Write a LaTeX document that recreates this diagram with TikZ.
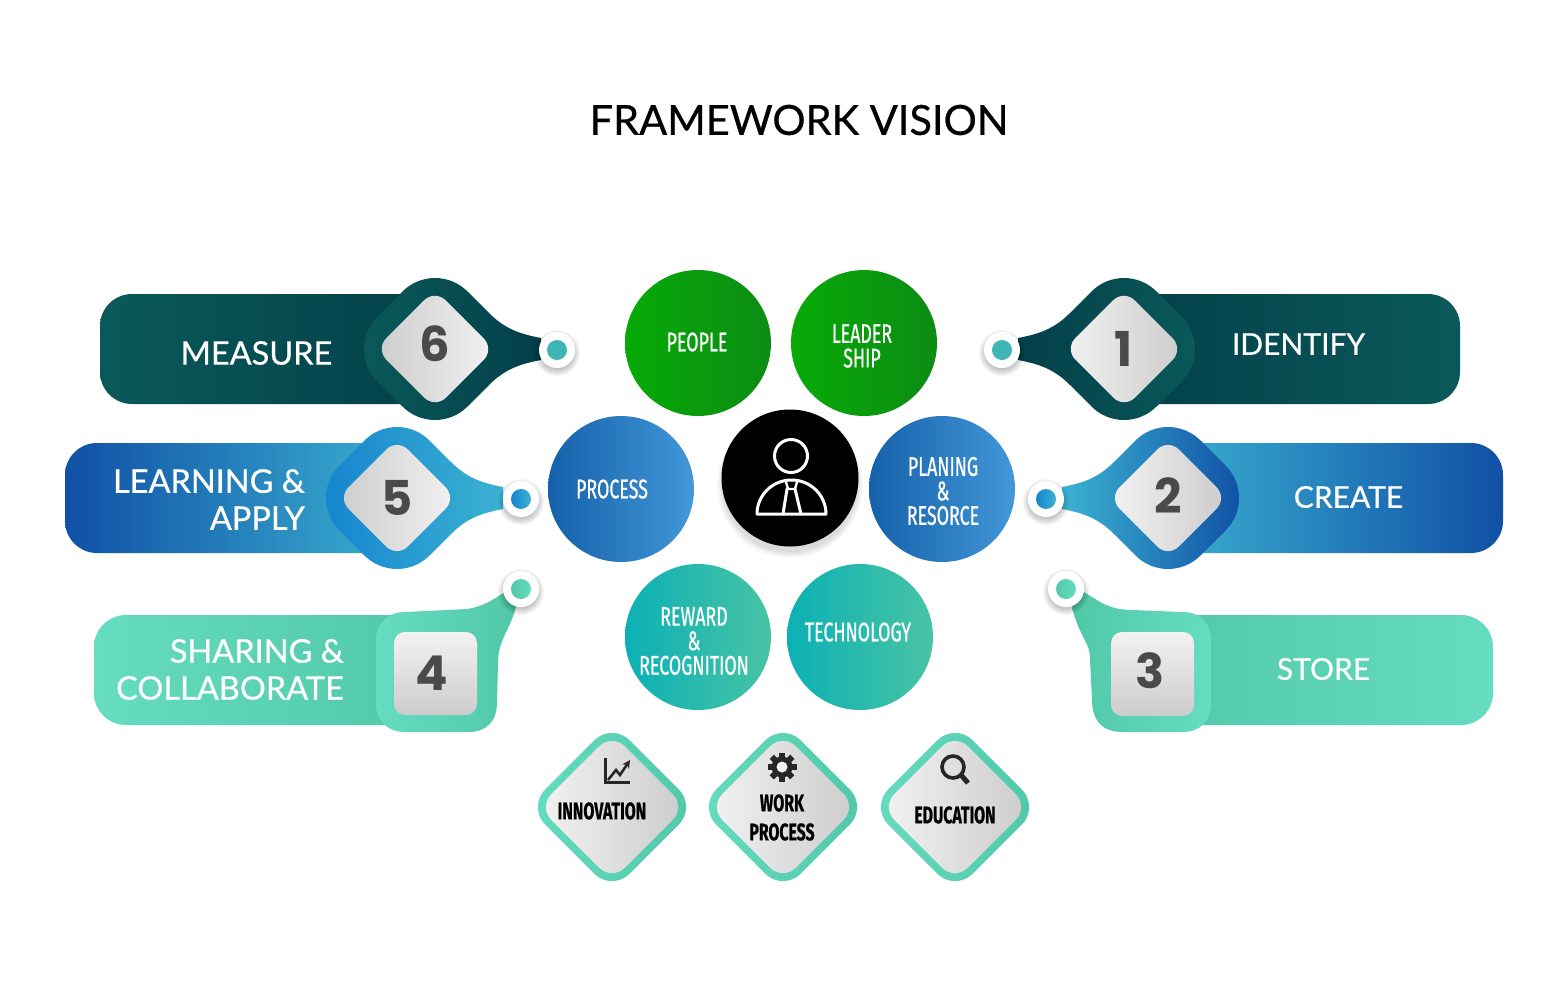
\documentclass[tikz,border=0pt]{standalone}
\usepackage{fontspec}
\setmainfont{Lato}
\newfontfamily\labelf[FakeBold=0.6]{Lato}
\newfontfamily\condf[FakeStretch=0.66,FakeBold=0.6]{Fira Sans}
\newfontfamily\digitf{Poppins}
\usetikzlibrary{arrows.meta}
\definecolor{tealD}{HTML}{033F49}\definecolor{tealL}{HTML}{0A595A}
\definecolor{blueD}{HTML}{1050A5}\definecolor{blueM}{HTML}{1585CF}\definecolor{blueL}{HTML}{3BB2D2}
\definecolor{mintD}{HTML}{50C8A8}\definecolor{mintL}{HTML}{66DCC0}
\definecolor{grnL}{HTML}{07AA07}\definecolor{grnR}{HTML}{0C8C14}
\definecolor{bluL}{HTML}{1560AA}\definecolor{bluR}{HTML}{4298D8}
\definecolor{tilL}{HTML}{0BB0B5}\definecolor{tilR}{HTML}{48C4A4}
\definecolor{digit}{HTML}{4A4A4A}\definecolor{dotT}{HTML}{3FB5B5}
\definecolor{lite}{HTML}{F2F2F2}\definecolor{mid}{HTML}{CCCCCC}
\tikzset{
  bubble/.style={circle,minimum size=146pt,inner sep=0pt},
  bubbletext/.style={text=white,inner sep=0pt,align=center,font=\condf\fontsize{27}{24.5}\selectfont},
  barlabel/.style={text=white,inner sep=0pt,font=\labelf\fontsize{32.5}{37}\selectfont,align=right},
  barnarrow/.style={barlabel,font=\labelf\fontsize{30}{37}\selectfont},
  digitlabel/.style={text=digit,inner sep=0pt,font=\digitf\bfseries\fontsize{48}{48}\selectfont},
  dlabel/.style={text=black,inner sep=0pt,align=center,font=\condf\bfseries\fontsize{24}{29}\selectfont},
  iconline/.style={line width=3pt,white,line join=round,line cap=round}
}
\newcommand{\softshadow}[4]{%
  \foreach \k in {0,1,...,5}{\fill[black,opacity=#4] (#1,#2) circle ({#3+\k*1.2pt});}}
\newcommand{\tagpath}{%
  (-106,-11) .. controls (-85,-15) and (-70,-20) .. (-54,-36) -- (-32.5,-57.5)
  .. controls (-14.5,-75.5) and (14.5,-75.5) .. (32.5,-57.5) -- (57.5,-32.5)
  .. controls (75.5,-14.5) and (75.5,14.5) .. (57.5,32.5) -- (32.5,57.5)
  .. controls (14.5,75.5) and (-14.5,75.5) .. (-32.5,57.5) -- (-54,36)
  .. controls (-70,20) and (-85,15) .. (-106,11) -- cycle}
\newcommand{\difftag}[5]{%
  \begin{scope}[shift={(#1,#2)},xscale=#3]
    \shade[left color=#4,right color=#5] \tagpath;
  \end{scope}}
\newcommand{\termdot}[4]{%
  \softshadow{#1}{#2+3}{17pt}{0.04}
  \fill[white] (#1,#2) circle (18pt);
  \shade[left color=#3,right color=#4] (#1,#2) circle (10pt);}
\begin{document}
\begin{tikzpicture}[x=1pt,y=-1pt]
\useasboundingbox (0,0) rectangle (1568,980);
\fill[white] (0,0) rectangle (1568,980);
\node[inner sep=0pt,font=\labelf\fontsize{41.5}{43}\selectfont,text=black] (title) at (799,120) {FRAMEWORK VISION};

% bars
\shade[left color=tealD,right color=tealL,rounded corners=32pt] (1112,294) rectangle (1460,404);
\shade[left color=blueL,right color=blueD,rounded corners=32pt] (1155,443) rectangle (1503,553);
\shade[left color=mintD,right color=mintL,rounded corners=32pt] (1150,615) rectangle (1493,725);
\shade[left color=tealL,right color=tealD,rounded corners=32pt] (100,294) rectangle (447,404);
\shade[left color=blueD,right color=blueL,rounded corners=32pt] (65,443) rectangle (410,553);
\shade[left color=mintL,right color=mintD,rounded corners=32pt] (94,615) rectangle (430,725);

% diamond tags
\difftag{1124}{349}{1}{tealD}{tealL}
\difftag{1168}{498}{1}{blueL}{blueD}
\difftag{435}{349}{-1}{tealL}{tealD}
\difftag{397}{498}{-1}{blueM}{blueL}
% square tags
\shade[left color=mintD,right color=mintL] (1072,607) .. controls (1080,640) and (1090,640) .. (1090,660)
  -- (1092,700) .. controls (1092,722) and (1104,732) .. (1122,732) -- (1182,732)
  .. controls (1200,732) and (1211,722) .. (1211,702) -- (1211,642)
  .. controls (1211,622) and (1200,612) .. (1182,612) -- (1132,610)
  .. controls (1110,610) and (1100,602) .. (1084,592) -- cycle;
\shade[left color=mintL,right color=mintD] (516,607) .. controls (510,630) and (498,640) .. (498,663)
  -- (497,702) .. controls (497,722) and (486,732) .. (468,732) -- (406,732)
  .. controls (388,732) and (376,722) .. (376,702) -- (376,642)
  .. controls (376,622) and (388,612) .. (406,612) -- (467,609)
  .. controls (485,606) and (492,600) .. (505,592) -- cycle;

% inner plates
\shade[left color=lite,right color=mid,rounded corners=15pt,rotate around={45:(1124,349)}] (1082.1,306.9) rectangle (1165.9,391.1);
\shade[left color=lite,right color=mid,rounded corners=15pt,rotate around={45:(1168,498)}] (1126.1,456.1) rectangle (1209.9,539.9);
\shade[left color=mid,right color=lite,rounded corners=15pt,rotate around={45:(435,349)}] (393.1,306.9) rectangle (476.9,391.1);
\shade[left color=mid,right color=lite,rounded corners=15pt,rotate around={45:(397,498)}] (355.1,456.1) rectangle (438.9,539.9);
\shade[shading angle=45,top color=lite,bottom color=mid,rounded corners=11pt] (1111,632) rectangle (1194,716);
\shade[shading angle=-45,top color=lite,bottom color=mid,rounded corners=11pt] (394,632) rectangle (477,715);

% terminal dots
\termdot{1002}{350}{dotT}{dotT}
\termdot{1046}{499}{blueM}{blueL}
\termdot{1066}{589}{mintD}{mintL}
\termdot{557}{350}{dotT}{dotT}
\termdot{521}{499}{blueM}{blueL}
\termdot{521}{589}{mintD}{mintL}

% bar texts
\node[barnarrow] (identify) at (1298.5,344) {IDENTIFY};
\node[barnarrow] (create) at (1348.5,497) {CREATE};
\node[barnarrow] (store) at (1323.5,669) {STORE};
\node[barlabel] (measure) at (256.5,353) {MEASURE};
\node[barlabel,anchor=east] (learn) at (305,499.5) {LEARNING \&\\APPLY};
\node[barlabel,anchor=east] (share) at (344,669.5) {SHARING \&\\COLLABORATE};

\node[digitlabel] (n1) at (1124,349) {1};
\node[digitlabel] (n2) at (1168,496) {2};
\node[digitlabel] (n3) at (1150,671) {3};
\node[digitlabel] (n4) at (432,673) {4};
\node[digitlabel] (n5) at (397,498) {5};
\node[digitlabel] (n6) at (435,344) {6};

% bubbles
\node[bubble,left color=grnL,right color=grnR] (people) at (698,343) {};
\node[bubble,left color=grnL,right color=grnR] (leader) at (864,343) {};
\node[bubble,left color=bluL,right color=bluR] (process) at (621,489) {};
\node[bubble,left color=bluL,right color=bluR] (planing) at (942,489) {};
\node[bubble,left color=tilL,right color=tilR] (reward) at (698,637) {};
\node[bubble,left color=tilL,right color=tilR] (tech) at (860,637) {};
\node[bubbletext] (peopleT) at (697,342) {PEOPLE};
\node[bubbletext] (leaderT) at (862,346) {LEADER\\SHIP};
\node[bubbletext] (processT) at (612,489) {PROCESS};
\node[bubbletext] (planingT) at (943,491) {PLANING\\\&\\RESORCE};
\node[bubbletext] (rewardT) at (694,641) {REWARD\\\&\\RECOGNITION};
\node[bubbletext] (techT) at (858,632) {TECHNOLOGY};

% centre
\softshadow{790}{485}{67pt}{0.025}
\node[circle,fill=black,minimum size=137pt,inner sep=0pt] (centre) at (790,478) {};
\draw[iconline] (791,456) circle (16.5pt);
\draw[iconline] (757,514) arc (180:360:34.5pt and -34pt) -- cycle;
\draw[iconline] (787,489) -- (783,514) (795,489) -- (801,514);
\draw[iconline,line width=2.4pt] (786,482) -- (788,489) -- (795,489) -- (797,482);

% lower diamonds
\foreach \cx in {612,783,955}{
  \shade[left color=mintL,right color=mintD,rounded corners=25pt,rotate around={45:(\cx,807)}] (\cx-59.7,747.3) rectangle (\cx+59.7,866.7);
  \shade[left color=lite,right color=mid,rounded corners=18pt,rotate around={45:(\cx,807)}] (\cx-52,755) rectangle (\cx+52,859);
}
\node[dlabel] (innov) at (602,811) {INNOVATION};
\node[dlabel] (work) at (782,817.5) {WORK\\PROCESS};
\node[dlabel] (edu) at (955,815) {EDUCATION};

% chart icon
\draw[line width=3pt,black!85] (605,758) -- (605,782) -- (630,782);
\draw[line width=2.6pt,black!85,-{Stealth[length=8pt,width=8pt]}] (608,780) -- (616,770) -- (620,775) -- (630,760);
% gear icon
\fill[black!85] (782,767) circle (10.5pt);
\foreach \a in {0,45,...,315}{
  \fill[black!85,rotate around={\a:(782,767)}] (779,752.5) rectangle (785,760);
}
\fill[lite] (782,767) circle (5.5pt);
% magnifier icon
\draw[line width=3.6pt,black!85] (953,767) circle (11pt);
\draw[line width=5pt,black!85] (961,775) -- (968,783);
\end{tikzpicture}
\end{document}
